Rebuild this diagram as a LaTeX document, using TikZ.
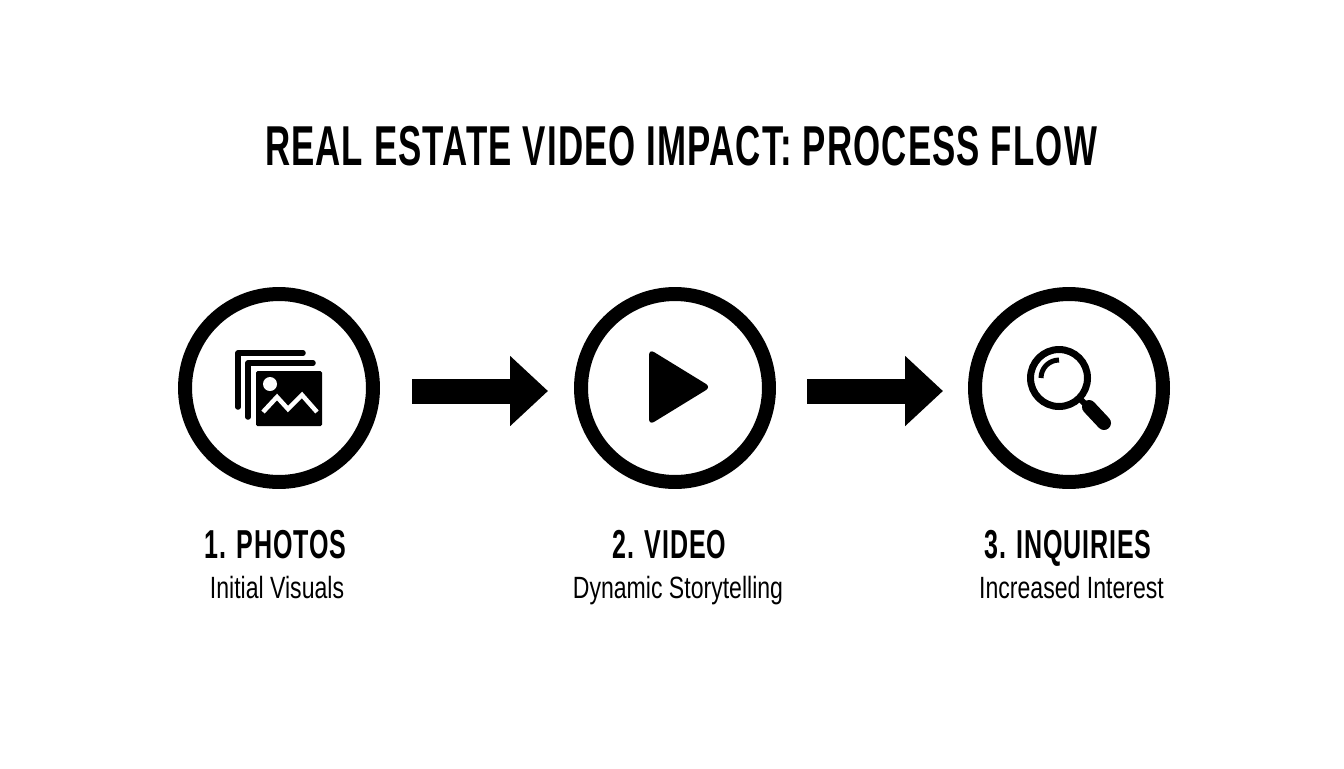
\documentclass[tikz,border=0pt]{standalone}
\usepackage{fontspec}
\usetikzlibrary{arrows.meta}
\setmainfont{Liberation Sans}
\newfontfamily\headfont[FakeStretch=0.62,LetterSpace=2]{Liberation Sans}
\newfontfamily\subfont[FakeStretch=0.75]{Liberation Sans}
\tikzset{
	px/.style={x=0.02cm,y=-0.02cm},
	ring/.style={draw=black,circle,line width=0.28cm,minimum size=3.76cm,inner sep=0pt},
	flowarrow/.style={line width=0.5cm,black,-{Triangle[length=0.76cm,width=1.36cm]}},
	headline/.style={anchor=base,font=\headfont\bfseries\fontsize{32pt}{32pt}\selectfont},
	steptitle/.style={anchor=base,font=\headfont\bfseries\fontsize{23pt}{23pt}\selectfont},
	stepnote/.style={anchor=base,font=\subfont\fontsize{17.5pt}{17.5pt}\selectfont},
}
\begin{document}
\begin{tikzpicture}[px]
	\useasboundingbox (0,0) rectangle (1344,768);

	\node[headline] (title) at (681,165) {REAL ESTATE VIDEO IMPACT: PROCESS FLOW};

	\node[ring] (photos) at (279,388) {};
	\node[ring] (video) at (675,388) {};
	\node[ring] (inquiries) at (1069,388) {};

	\coordinate (a1) at (412,391);
	\coordinate (a2) at (548,391);
	\coordinate (b1) at (807,391);
	\coordinate (b2) at (943,391);
	\draw[flowarrow] (a1) -- (a2);
	\draw[flowarrow] (b1) -- (b2);

	% photo stack
	\draw[line width=0.11cm,line cap=round,line join=round] (238,407) -- (238,353) -- (303,353);
	\draw[line width=0.11cm,line cap=round,line join=round] (248,417) -- (248,363) -- (313,363);
	\fill[rounded corners=0.03cm] (256,371) rectangle (322,426);
	\fill[white] (270,384) circle (0.14cm);
	\draw[white,line width=0.09cm] (263,412) -- (277,397) -- (288,409) -- (302,395) -- (317,412);

	% play
	\fill[rounded corners=0.12cm] (649,349) -- (649,425) -- (711,387) -- cycle;

	% lens
	\draw[line width=0.14cm] (1059,378) circle (0.57cm);
	\draw[line width=0.1cm] (1041,378) arc (180:90:0.36cm);
	\draw[line width=0.12cm] (1080,399) -- (1090,409);
	\draw[line width=0.28cm,line cap=round] (1089,407) -- (1104,423);

	\node[steptitle] (t1) at (275.5,558) {1. PHOTOS};
	\node[stepnote] (n1) at (277,598) {Initial Visuals};
	\node[steptitle] (t2) at (669.5,558) {2. VIDEO};
	\node[stepnote] (n2) at (678,598) {Dynamic Storytelling};
	\node[steptitle] (t3) at (1068,558) {3. INQUIRIES};
	\node[stepnote] (n3) at (1071.5,598) {Increased Interest};
\end{tikzpicture}
\end{document}
